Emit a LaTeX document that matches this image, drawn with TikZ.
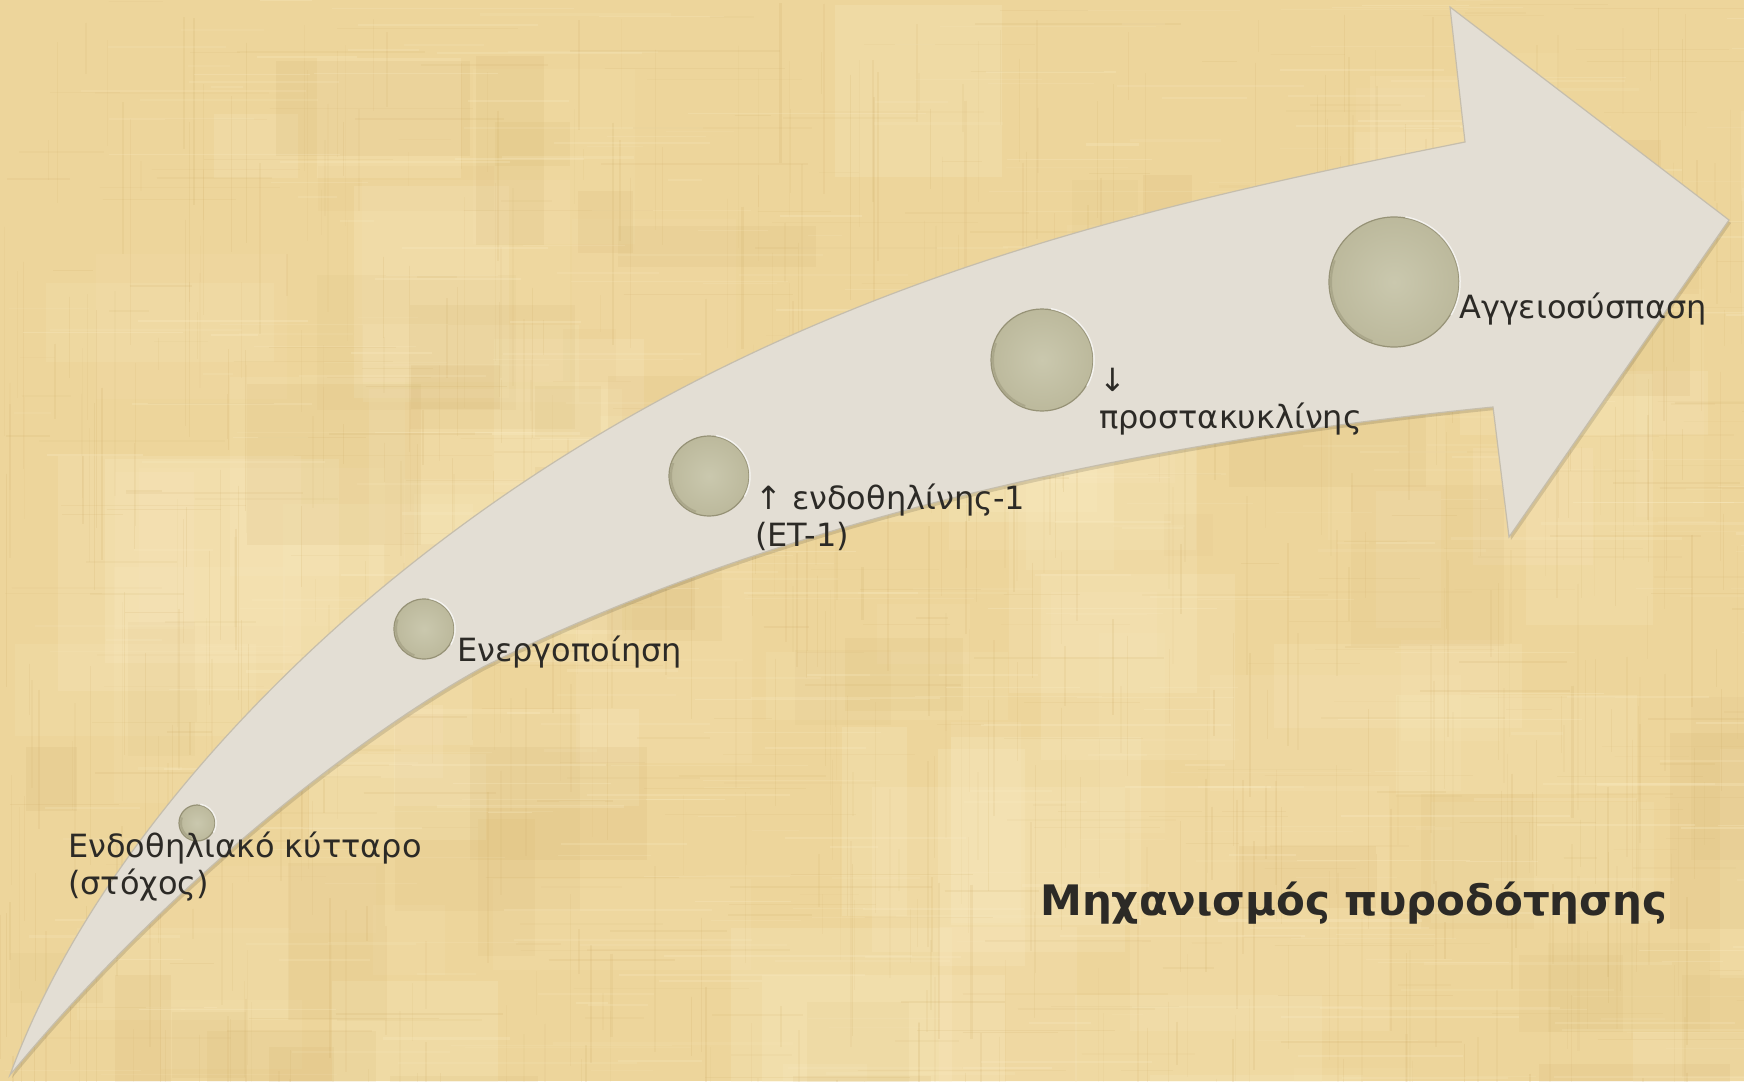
\documentclass[tikz,border=0pt]{standalone}
\usepackage{fontspec}
\setmainfont{DejaVu Sans}
\usetikzlibrary{calc}
\definecolor{papyrus}{RGB}{237,213,155}
\definecolor{papdark}{RGB}{205,170,100}
\definecolor{paplight}{RGB}{250,236,196}
\definecolor{arrowfill}{RGB}{227,222,212}
\definecolor{arrowedge}{RGB}{198,190,172}
\definecolor{dotfill}{RGB}{188,185,156}
\definecolor{dotdark}{RGB}{150,146,118}
\definecolor{dotlight}{RGB}{202,200,174}
\definecolor{txt}{RGB}{44,42,38}
\tikzset{
  lbl/.style={anchor=base west, inner sep=0pt, text=txt, font=\fontsize{32}{37}\selectfont, align=left},
  ttl/.style={anchor=base west, inner sep=0pt, text=txt, font=\bfseries\fontsize{42}{50}\selectfont},
  dot/.style={circle, inner sep=0pt, draw=dotdark, line width=1.2pt, inner color=dotlight, outer color=dotfill},
  arrowshape/.style={insert path={
    (10,1075) .. controls (90,857) and (273,678) .. (383,587)
    .. controls (733,297) and (1115,212) .. (1465,142)
    -- (1450,7) -- (1729,220) -- (1509,537) -- (1493,407)
    .. controls (1143,442) and (783,517) .. (483,667)
    .. controls (363,733) and (170,881) .. (10,1075) -- cycle}}
}
\newcommand\mydot[4]{%
  \node[dot, minimum size=#4*2pt] (#1) at (#2,#3) {};
  \draw[white, opacity=0.7, line width=1.5pt] ($(#1.center)+(-80:#4+1)$) arc[start angle=-80, end angle=30, radius=#4+1];
  \draw[dotdark, opacity=0.45, line width=2pt] ($(#1.center)+(110:#4-2)$) arc[start angle=110, end angle=200, radius=#4-2];
}
\begin{document}
\begin{tikzpicture}[x=1pt,y=-1pt]
\useasboundingbox (0,0) rectangle (1744,1081);
\begin{scope}
\clip (0,0) rectangle (1744,1081);
\fill[papyrus] (0,0) rectangle (1744,1081);
\pgfmathsetseed{4242}
\foreach \i in {1,...,80} {
  \pgfmathsetmacro{\xx}{rnd*1744}
  \pgfmathsetmacro{\yy}{rnd*1081}
  \pgfmathsetmacro{\ww}{60+rnd*200}
  \pgfmathsetmacro{\hh}{60+rnd*200}
  \pgfmathsetmacro{\oo}{0.08+rnd*0.16}
  \fill[paplight, opacity=\oo] (\xx,\yy) rectangle ++(\ww,\hh);
}
\foreach \i in {1,...,50} {
  \pgfmathsetmacro{\xx}{rnd*1744}
  \pgfmathsetmacro{\yy}{rnd*1081}
  \pgfmathsetmacro{\ww}{40+rnd*160}
  \pgfmathsetmacro{\hh}{40+rnd*160}
  \pgfmathsetmacro{\oo}{0.05+rnd*0.08}
  \fill[papdark, opacity=\oo] (\xx,\yy) rectangle ++(\ww,\hh);
}
\foreach \i in {1,...,600} {
  \pgfmathsetmacro{\xx}{rnd*1744}
  \pgfmathsetmacro{\yy}{rnd*1081}
  \pgfmathsetmacro{\ll}{30+rnd*200}
  \pgfmathsetmacro{\lw}{0.6+rnd*1.6}
  \pgfmathsetmacro{\oo}{0.05+rnd*0.12}
  \draw[papdark, opacity=\oo, line width=\lw pt] (\xx,\yy) -- ++(0,\ll);
}
\foreach \i in {1,...,400} {
  \pgfmathsetmacro{\xx}{rnd*1744}
  \pgfmathsetmacro{\yy}{rnd*1081}
  \pgfmathsetmacro{\ll}{30+rnd*220}
  \pgfmathsetmacro{\lw}{0.6+rnd*2}
  \pgfmathsetmacro{\oo}{0.1+rnd*0.2}
  \draw[paplight, opacity=\oo, line width=\lw pt] (\xx,\yy) -- ++(\ll,0);
}
\foreach \i in {1,...,300} {
  \pgfmathsetmacro{\xx}{rnd*1744}
  \pgfmathsetmacro{\yy}{rnd*1081}
  \pgfmathsetmacro{\ll}{30+rnd*180}
  \pgfmathsetmacro{\lw}{0.6+rnd*1.5}
  \pgfmathsetmacro{\oo}{0.05+rnd*0.1}
  \draw[papdark, opacity=\oo, line width=\lw pt] (\xx,\yy) -- ++(\ll,0);
}
\end{scope}
% arrow
\begin{scope}[shift={(2,3)}]
\path[fill=black, opacity=0.12, arrowshape];
\end{scope}
\path[fill=arrowfill, draw=arrowedge, line width=1.2pt, arrowshape];
% dots
\mydot{c1}{197}{823}{18}
\mydot{c2}{424}{629}{30}
\mydot{c3}{709}{476}{40}
\mydot{c4}{1042}{360}{51}
\mydot{c5}{1394}{282}{65}
% labels (base anchor = last line baseline)
\node[lbl] (t1) at (68,894) {Ενδοθηλιακό κύτταρο\\(στόχος)};
\node[lbl] (t2) at (457,661) {Ενεργοποίηση};
\node[lbl] (t3) at (755,546) {↑ ενδοθηλίνης-1\\(ET-1)};
\node[lbl] (t4) at (1099,428) {↓\\προστακυκλίνης};
\node[lbl] (t5) at (1459,318) {Αγγειοσύσπαση};
\node[ttl] (title) at (1040,915) {Μηχανισμός πυροδότησης};
\end{tikzpicture}
\end{document}
